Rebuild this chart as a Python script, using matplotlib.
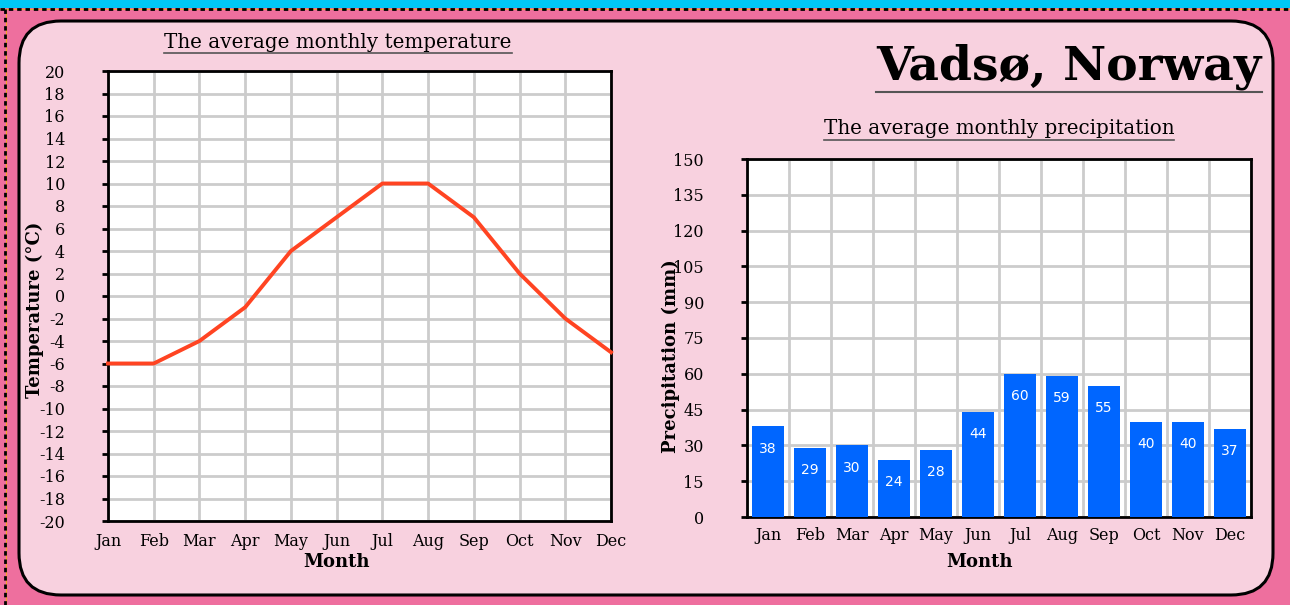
import numpy as np
import matplotlib
matplotlib.use("Agg")
import matplotlib.pyplot as plt
from matplotlib.patches import FancyBboxPatch, Rectangle
from matplotlib.lines import Line2D

months = ["Jan", "Feb", "Mar", "Apr", "May", "Jun", "Jul", "Aug", "Sep", "Oct", "Nov", "Dec"]
temperature = [-6, -6, -4, -1, 4, 7, 10, 10, 7, 2, -2, -5]
precipitation = [38, 29, 30, 24, 28, 44, 60, 59, 55, 40, 40, 37]

serif = "DejaVu Serif"
W, H = 1290, 605
tick_fs = 11.5
label_fs = 13

fig = plt.figure(figsize=(12.9, 6.05), dpi=100)
fig.patch.set_facecolor("#ee6f9e")

# background panel in pixel coordinates
bg = fig.add_axes([0, 0, 1, 1], zorder=-10)
bg.set_xlim(0, W)
bg.set_ylim(H, 0)
bg.axis("off")
bg.add_patch(Rectangle((0, 0), W, 8, color="#00c8f5", lw=0))
bg.plot([0, W], [9, 9], color="#f5a623", lw=0.8)
bg.plot([0, W], [9, 9], color="black", lw=2, ls=(0, (1.6, 1.4)))
bg.plot([6, 6], [9, H], color="#f5a623", lw=0.8)
bg.plot([5, 5], [9, H], color="black", lw=2, ls=(0, (1.6, 1.4)))
bg.add_patch(FancyBboxPatch((19, 21), 1254, 574, boxstyle="round,pad=0,rounding_size=42",
                            facecolor="#f8d1df", edgecolor="black", lw=2.2))

grid_color = "#cccccc"

# temperature line chart
ax1 = fig.add_axes([108 / W, 1 - 521 / H, 503 / W, 450 / H])
x = np.arange(len(months))
ax1.plot(x, temperature, color="#ff4422", lw=2.8, zorder=3, clip_on=False)
ax1.set_xlim(0, 11)
ax1.set_ylim(-20, 20)
ax1.set_xticks(x)
ax1.set_xticklabels(months, fontfamily=serif, fontsize=tick_fs)
ax1.set_yticks(np.arange(-20, 21, 2))
ax1.set_yticklabels([str(v) for v in range(-20, 21, 2)], fontfamily=serif, fontsize=tick_fs)
ax1.tick_params(axis="y", length=4, width=2, pad=27)
ax1.tick_params(axis="x", length=0, pad=9)
ax1.grid(color=grid_color, lw=2)
ax1.set_axisbelow(True)
for s in ax1.spines.values():
    s.set_linewidth(2)
ax1.set_facecolor("white")
ax1.set_xlabel("Month", fontfamily=serif, fontweight="bold", fontsize=label_fs)
ax1.xaxis.set_label_coords(0.455, -0.071)
ax1.set_ylabel("Temperature (°C)", fontfamily=serif, fontweight="bold", fontsize=label_fs)
ax1.yaxis.set_label_coords(-0.127, 0.47)

# precipitation bar chart
ax2 = fig.add_axes([747 / W, 1 - 517 / H, 504 / W, 358 / H])
bars = ax2.bar(x, precipitation, width=0.78, color="#0066ff", zorder=3)
for b, v in zip(bars, precipitation):
    ax2.annotate(str(v), (b.get_x() + b.get_width() / 2, v), xytext=(0, -16),
                 textcoords="offset points", ha="center", va="center",
                 color="white", fontsize=10, zorder=4)
ax2.set_xlim(-0.5, 11.5)
ax2.set_ylim(0, 150)
ax2.set_xticks(x)
ax2.set_xticklabels(months, fontfamily=serif, fontsize=tick_fs)
ax2.set_xticks(np.arange(-0.5, 12, 1), minor=True)
ax2.set_yticks(np.arange(0, 151, 15))
ax2.set_yticklabels([str(v) for v in range(0, 151, 15)], fontfamily=serif, fontsize=tick_fs)
ax2.tick_params(axis="y", length=4, width=2, pad=27)
ax2.tick_params(axis="x", which="both", length=0, pad=7)
ax2.grid(axis="y", color=grid_color, lw=2)
ax2.grid(axis="x", which="minor", color=grid_color, lw=2)
ax2.grid(axis="x", which="major", visible=False)
ax2.set_axisbelow(True)
for s in ax2.spines.values():
    s.set_linewidth(2)
ax2.set_facecolor("white")
ax2.set_xlabel("Month", fontfamily=serif, fontweight="bold", fontsize=label_fs)
ax2.xaxis.set_label_coords(0.462, -0.100)
ax2.set_ylabel("Precipitation (mm)", fontfamily=serif, fontweight="bold", fontsize=label_fs)
ax2.yaxis.set_label_coords(-0.133, 0.45)

# titles, underlined
t1 = fig.text(338 / W, 1 - 42 / H, "The average monthly temperature", ha="center", va="center",
              fontfamily=serif, fontsize=14.3)
t2 = fig.text(999 / W, 1 - 129 / H, "The average monthly precipitation", ha="center", va="center",
              fontfamily=serif, fontsize=14.3)
t3 = fig.text(1069 / W, 1 - 67 / H, "Vadsø, Norway", ha="center", va="center",
              fontfamily=serif, fontweight="heavy", fontsize=34)

fig.canvas.draw()
r = fig.canvas.get_renderer()
for t, gap, lw in [(t1, 1, 1.2), (t2, 1, 1.2), (t3, 2, 1.5)]:
    bb = t.get_window_extent(r)
    y = bb.y0 - gap
    fig.add_artist(Line2D([bb.x0 / W, bb.x1 / W], [y / H, y / H], color="#555555", lw=lw,
                          transform=fig.transFigure))

fig.savefig("out.png", dpi=100, facecolor=fig.get_facecolor())
